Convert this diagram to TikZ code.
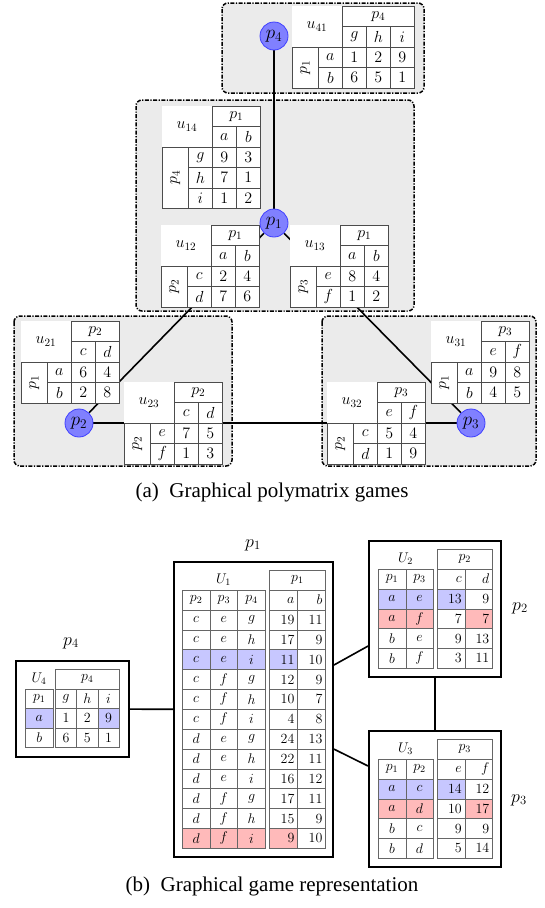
\documentclass[tikz,border=0pt]{standalone}
\usepackage{fix-cm}
\usepackage[no-math]{fontspec}
\setmainfont{Liberation Serif}
\usetikzlibrary{backgrounds}

\colorlet{hlblue}{blue!22}
\colorlet{hlred}{red!27}
\colorlet{boxgray}{black!8}

\tikzset{
  gamebox/.style={draw, line width=1.5pt, dash pattern=on 4pt off 1.5pt on 1.2pt off 1.5pt, rounded corners=6pt, fill=boxgray},
  player/.style={circle, draw=blue!75, fill=blue!50, line width=0.8pt, minimum size=28pt, inner sep=0pt, font=\fontsize{19}{19}\selectfont},
  link/.style={line width=1.6pt},
  cell/.style={draw=black!70, line width=0.7pt, fill=white, inner sep=0pt, anchor=north west, font=\fontsize{16}{16}\selectfont},
  gcell/.style={draw=black!60, line width=0.6pt, fill=white, inner sep=0pt, anchor=north west, font=\fontsize{14}{14}\selectfont},
  numcell/.style={inner xsep=3pt, text width=#1, align=\valalign},
  utilbox/.style={draw, line width=1.8pt, fill=white, inner sep=0pt},
  plabel/.style={font=\fontsize{18}{18}\selectfont},
  caption/.style={font=\fontsize{21}{22}\selectfont},
}

% pairwise payoff table: name, top left, utility, column player, column actions, row player, row actions, payoffs
\newcommand{\polytab}[8]{%
  \begin{scope}[shift={#2}]
    \foreach \q [count=\k] in {#5} {\xdef\ncol{\k}}
    \foreach \q [count=\k] in {#7} {\xdef\nrow{\k}}
    \fill[white] (0,0) rectangle ({50+24*\ncol},{40.8+20.4*\nrow});
    \node[cell, draw=none, anchor=center] (#1-name) at (25,20.4) {$#3$};
    \node[cell, minimum width={24*\ncol}, minimum height=20.4] (#1-col) at (50,0) {$#4$};
    \foreach \q [count=\k] in {#5}
      \node[cell, minimum width=24, minimum height=20.4] (#1-c\k) at ({50+24*(\k-1)},20.4) {$\q$};
    \node[cell, minimum width=26, minimum height={20.4*\nrow}] (#1-row) at (0,40.8) {\rotatebox{90}{$#6$}};
    \foreach \q [count=\k] in {#7}
      \node[cell, minimum width=24, minimum height=20.4] (#1-r\k) at (26,{40.8+20.4*(\k-1)}) {$\q$};
    \foreach \vals [count=\i] in {#8}
      \foreach \q [count=\k] in \vals
        \node[cell, minimum width=24, minimum height=20.4] (#1-\i-\k) at ({50+24*(\k-1)},{40.8+20.4*(\i-1)}) {$\q$};
  \end{scope}}

% utility table: name, top left, utility, column player, player headers, column actions, rows (fill/highlighted column/entries)
\newcommand{\gametab}[7]{%
  \begin{scope}[shift={#2}]
    \foreach \q [count=\k] in {#5} {\xdef\npl{\k}}
    \foreach \q [count=\k] in {#6} {\xdef\nact{\k}}
    \pgfmathsetmacro\xv{\npl*\colw+\dgap}
    \pgfmathsetmacro\numw{\valw-6}
    \node[gcell, draw=none, anchor=center] (#1-name) at ({\npl*\colw/2},{\rowh/2}) {$#3$};
    \node[gcell, minimum width={\nact*\valw}, minimum height=\rowh] (#1-col) at (\xv,0) {$#4$};
    \foreach \q [count=\k] in {#5}
      \node[gcell, minimum width=\colw, minimum height=\rowh] (#1-p\k) at ({(\k-1)*\colw},\rowh) {$\q$};
    \foreach \q [count=\k] in {#6}
      \node[gcell, numcell=\numw pt, minimum height=\rowh] (#1-a\k) at ({\xv+(\k-1)*\valw},\rowh) {$\q$};
    \foreach \cellfill/\hc/\vals [count=\i] in {#7} {
      \foreach \q [count=\k] in \vals {
        \ifnum\k>\npl
          \pgfmathtruncatemacro\vcol{\k-\npl}
          \ifnum\vcol=\hc\relax \edef\valfill{\cellfill}\else \def\valfill{white}\fi
          \node[gcell, numcell=\numw pt, minimum height=\rowh, fill=\valfill] (#1-\i-\k) at ({\xv+(\vcol-1)*\valw},{(\i+1)*\rowh}) {$\q$};
        \else
          \node[gcell, minimum width=\colw, minimum height=\rowh, fill=\cellfill] (#1-\i-\k) at ({(\k-1)*\colw},{(\i+1)*\rowh}) {$\q$};
        \fi
      }
    }
  \end{scope}}

\begin{document}
\begin{tikzpicture}[x=1pt, y=-1pt]
\useasboundingbox (0,0) rectangle (544,908);

% (a) polymatrix tables
\polytab{u41}{(292,6)}{u_{41}}{p_4}{g,h,i}{p_1}{a,b}{{1,2,9},{6,5,1}}
\polytab{u14}{(162,106)}{u_{14}}{p_1}{a,b}{p_4}{g,h,i}{{9,3},{7,1},{1,2}}
\polytab{u12}{(161,225)}{u_{12}}{p_1}{a,b}{p_2}{c,d}{{2,4},{7,6}}
\polytab{u13}{(290,225)}{u_{13}}{p_1}{a,b}{p_3}{e,f}{{8,4},{1,2}}
\polytab{u21}{(21,321)}{u_{21}}{p_2}{c,d}{p_1}{a,b}{{6,4},{2,8}}
\polytab{u23}{(124,382)}{u_{23}}{p_2}{c,d}{p_2}{e,f}{{7,5},{1,3}}
\polytab{u31}{(431,321)}{u_{31}}{p_3}{e,f}{p_1}{a,b}{{9,8},{4,5}}
\polytab{u32}{(327,382)}{u_{32}}{p_3}{e,f}{p_2}{c,d}{{5,4},{1,9}}

% players
\node[player] (p4) at (274,36) {$p_4$};
\node[player] (p1) at (274,223) {$p_1$};
\node[player] (p2) at (79,423) {$p_2$};
\node[player] (p3) at (471,423) {$p_3$};

\begin{pgfonlayer}{background}
  % player boxes
  \draw[gamebox] (222,3) rectangle (424,93);
  \draw[gamebox] (136,100) rectangle (414,311);
  \draw[gamebox] (14,316) rectangle (232,466);
  \draw[gamebox] (322,316) rectangle (536,466);
  % edges
  \draw[link] (p4) -- (p1);
  \draw[link] (p1) -- (p2);
  \draw[link] (p1) -- (p3);
  \draw[link] (p2) -- (p3);
\end{pgfonlayer}

\node[caption] (capa) at (272,492) {(a)\enspace Graphical polymatrix games};

% (b) graphical game
\node[utilbox, minimum width=159, minimum height=295] (g1) at (253.5,709.5) {};
\node[utilbox, minimum width=132, minimum height=136] (g2) at (435,609) {};
\node[utilbox, minimum width=132, minimum height=136] (g3) at (435,799) {};
\node[utilbox, minimum width=113, minimum height=96] (g4) at (72.5,709) {};

\node[plabel] (l1) at (253,545) {$p_1$};
\node[plabel] (l2) at (520,608) {$p_2$};
\node[plabel] (l3) at (519,800) {$p_3$};
\node[plabel] (l4) at (71,643) {$p_4$};

\draw[link] (g4) -- (g1);
\draw[link] (g1) -- (g2);
\draw[link] (g1) -- (g3);
\draw[link] (g2) -- (g3);

\def\colw{27.7}\def\dgap{4}\def\valw{28}\def\rowh{19.86}\def\valalign{right}
\gametab{t1}{(182,570)}{U_1}{p_1}{p_2,p_3,p_4}{a,b}{white/0/{c,e,g,19,11},
  white/0/{c,e,h,17,9}, hlblue/1/{c,e,i,11,10}, white/0/{c,f,g,12,9},
  white/0/{c,f,h,10,7}, white/0/{c,f,i,4,8}, white/0/{d,e,g,24,13},
  white/0/{d,e,h,22,11}, white/0/{d,e,i,16,12}, white/0/{d,f,g,17,11},
  white/0/{d,f,h,15,9}, hlred/1/{d,f,i,9,10}}

\def\colw{27.5}\def\dgap{4}\def\valw{27.5}\def\rowh{19.85}
\gametab{t2}{(378,549)}{U_2}{p_2}{p_1,p_3}{c,d}{hlblue/1/{a,e,13,9},
  hlred/2/{a,f,7,7}, white/0/{b,e,9,13}, white/0/{b,f,3,11}}
\gametab{t3}{(378,739)}{U_3}{p_3}{p_1,p_2}{e,f}{hlblue/1/{a,c,14,12},
  hlred/2/{a,d,10,17}, white/0/{b,c,9,9}, white/0/{b,d,5,14}}

\def\colw{28}\def\dgap{2}\def\valw{21.3}\def\rowh{19.5}\def\valalign{center}
\gametab{t4}{(25,669)}{U_4}{p_4}{p_1}{g,h,i}{hlblue/3/{a,1,2,9},
  white/0/{b,6,5,1}}

\node[caption] (capb) at (272,886) {(b)\enspace Graphical game representation};
\end{tikzpicture}
\end{document}
